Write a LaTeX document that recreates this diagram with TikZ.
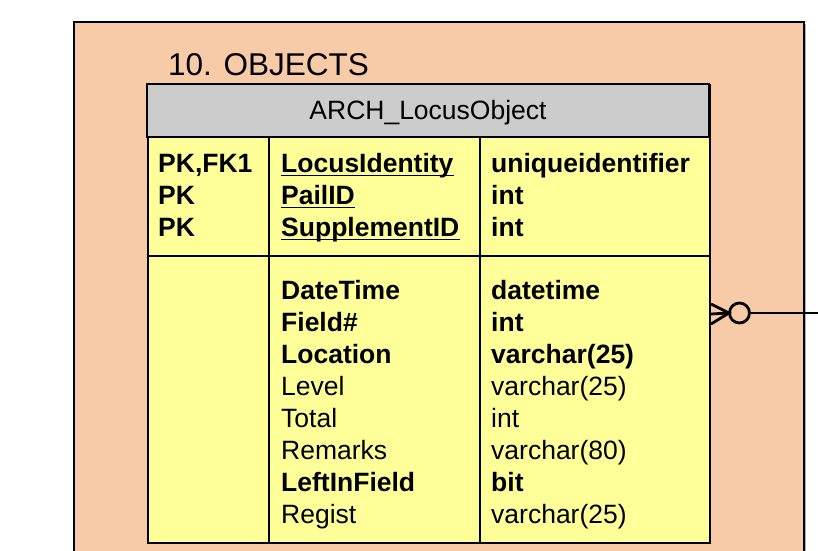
\documentclass[tikz,border=0pt]{standalone}
\usepackage{fontspec}
\setmainfont{Liberation Sans}
\definecolor{peach}{HTML}{F8CBA8}
\definecolor{tblyellow}{HTML}{FFFF99}
\definecolor{hdrgrey}{HTML}{CCCCCC}
\begin{document}
\begin{tikzpicture}[x=1pt,y=-1pt,
  cell/.style={anchor=base west,inner sep=0pt,font=\fontsize{26.5}{30}\selectfont},
  bcell/.style={cell,font=\fontsize{26.5}{30}\selectfont\bfseries},
  border/.style={draw=black,line width=2pt},
  ulin/.style={line width=1.8pt},
  relline/.style={line width=2.8pt}]
\useasboundingbox (0,0) rectangle (818,550);
\clip (0,0) rectangle (818,550);
% outer package
\fill[gray!60] (76,24) rectangle (806,570);
\draw[border,fill=peach] (74,22) rectangle (804,570);
\node[anchor=base west,inner sep=0pt,font=\fontsize{31.5}{34}\selectfont] (title) at (168,75) {10. OBJECTS};
% table
\node[border,fill=tblyellow,anchor=north west,inner sep=0pt,minimum width=562pt,minimum height=458pt] (tbl) at (147,84) {};
\draw[border,fill=hdrgrey] (tbl.north west) rectangle (709,137);
\node[anchor=base,inner sep=0pt,font=\fontsize{26.5}{30}\selectfont] (hdr) at (428,119) {ARCH\_LocusObject};
\draw[border] (147,256) -- (709,256);
\draw[border] (269,137) -- (269,542);
\draw[border] (480,137) -- (480,542);
% key rows
\node[bcell] (k1) at (158,172.5) {PK,FK1};
\node[bcell] (k2) at (158,204.5) {PK};
\node[bcell] (k3) at (158,236.5) {PK};
\node[bcell] (n1) at (281,172.5) {LocusIdentity};
\node[bcell] (n2) at (281,204.5) {PailID};
\node[bcell] (n3) at (281,236.5) {SupplementID};
\foreach \n in {n1,n2,n3}
  \draw[ulin] ([yshift=-3pt]\n.base west) -- ([yshift=-3pt]\n.base east);
\node[bcell] (t1) at (491,172.5) {uniqueidentifier};
\node[bcell] (t2) at (491,204.5) {int};
\node[bcell] (t3) at (491,236.5) {int};
% attribute rows
\node[bcell] (a1) at (281,299.2) {DateTime};
\node[bcell] (a2) at (281,331.3) {Field\#};
\node[bcell] (a3) at (281,363.4) {Location};
\node[cell]  (a4) at (281,395.5) {Level};
\node[cell]  (a5) at (281,427.6) {Total};
\node[cell]  (a6) at (281,459.2) {Remarks};
\node[bcell] (a7) at (281,491.3) {LeftInField};
\node[cell]  (a8) at (281,523.4) {Regist};
\node[bcell] (b1) at (491,299.2) {datetime};
\node[bcell] (b2) at (491,331.3) {int};
\node[bcell] (b3) at (491,363.4) {varchar(25)};
\node[cell]  (b4) at (491,395.5) {varchar(25)};
\node[cell]  (b5) at (491,427.6) {int};
\node[cell]  (b6) at (491,459.2) {varchar(80)};
\node[bcell] (b7) at (491,491.3) {bit};
\node[cell]  (b8) at (491,523.4) {varchar(25)};
% relationship connector (crow's foot, zero-or-many)
\coordinate (tip) at (729,313);
\node[draw=black,line width=2.8pt,circle,minimum size=20pt,inner sep=0pt] (circ) at (739.5,313) {};
\coordinate (far) at (818,313);
\draw[relline] (tbl.east) -- (circ.west);
\draw[relline] ([yshift=-10pt]tbl.east) -- (tip) -- ([yshift=10pt]tbl.east);
\draw[relline] (circ.east) -- (far);
\end{tikzpicture}
\end{document}
